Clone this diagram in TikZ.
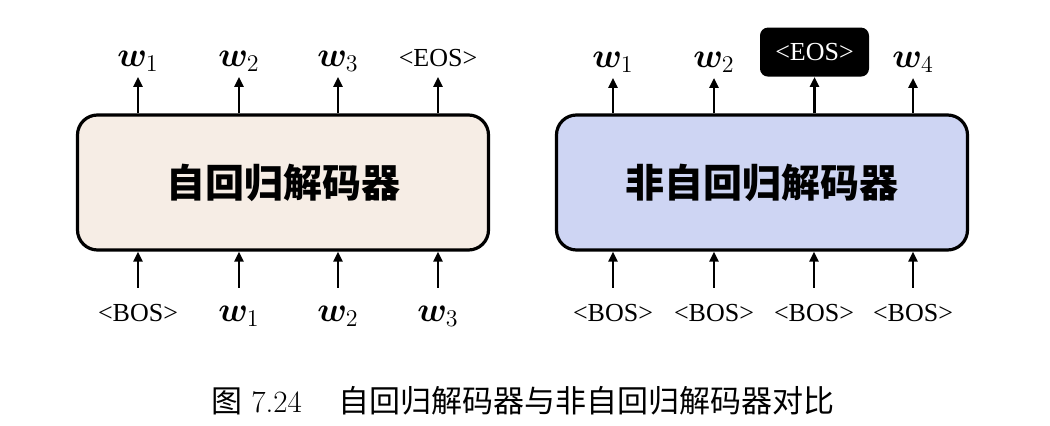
\documentclass[tikz,border=0pt]{standalone}
\usepackage{amsmath}
\usepackage{bm}
\usepackage{fontspec}
\newfontfamily\cjk{Noto Sans CJK SC}
\newfontfamily\tnr{Liberation Serif}
\usetikzlibrary{arrows.meta}
\definecolor{arfill}{RGB}{246,237,229}
\definecolor{narfill}{RGB}{206,213,243}

\newcommand{\tokw}[1]{{\fontsize{16.5}{18}\selectfont$\bm{w}_{#1}$}}

\tikzset{
	decoder/.style={draw, line width=1.6pt, rounded corners=10pt, minimum width=205.5pt, minimum height=67.5pt, font=\cjk\bfseries\fontsize{19.5}{22}\selectfont},
	outtok/.style={anchor=south, inner sep=2pt, text height=10pt, text depth=3pt, font=\tnr\fontsize{13}{15}\selectfont},
	intok/.style={anchor=north, inner xsep=2pt, inner ysep=6.5pt, text height=10pt, text depth=3pt, font=\tnr\fontsize{13}{15}\selectfont},
	eosbox/.style={fill=black, text=white, rounded corners=4pt, minimum width=54.5pt, minimum height=24.5pt, inner sep=0pt, font=\tnr\fontsize{13}{15}\selectfont},
	flow/.style={-{Triangle[length=5pt,width=4.5pt]}, line width=1.2pt},
}

\begin{document}
\begin{tikzpicture}[x=0.5pt, y=-0.5pt]
			\useasboundingbox (0,0) rectangle (1050,426);
			
			% autoregressive decoder
			\node [decoder, fill=arfill] (ar) at (283,182.5) {自回归解码器};
			\node [outtok] (ar-o1) at (138,77) {\tokw{1}};
			\node [outtok] (ar-o2) at (239,77) {\tokw{2}};
			\node [outtok] (ar-o3) at (338,77) {\tokw{3}};
			\node [outtok] (ar-o4) at (438,77) {<EOS>};
			\node [intok] (ar-i1) at (138,288) {<BOS>};
			\node [intok] (ar-i2) at (239,288) {\tokw{1}};
			\node [intok] (ar-i3) at (338,288) {\tokw{2}};
			\node [intok] (ar-i4) at (438,288) {\tokw{3}};
			\draw [flow] (ar.north -| ar-o1) -- (ar-o1.south);
			\draw [flow] (ar.north -| ar-o2) -- (ar-o2.south);
			\draw [flow] (ar.north -| ar-o3) -- (ar-o3.south);
			\draw [flow] (ar.north -| ar-o4) -- (ar-o4.south);
			\draw [flow] (ar-i1.north) -- (ar.south -| ar-i1);
			\draw [flow] (ar-i2.north) -- (ar.south -| ar-i2);
			\draw [flow] (ar-i3.north) -- (ar.south -| ar-i3);
			\draw [flow] (ar-i4.north) -- (ar.south -| ar-i4);
			
			% non-autoregressive decoder
			\node [decoder, fill=narfill] (nar) at (762,182.5) {非自回归解码器};
			\node [outtok] (nar-o1) at (613,78) {\tokw{1}};
			\node [outtok] (nar-o2) at (714,78) {\tokw{2}};
			\node [eosbox, anchor=south] (nar-o3) at (814.5,77) {<EOS>};
			\node [outtok] (nar-o4) at (913,78) {\tokw{4}};
			\node [intok] (nar-i1) at (613,288) {<BOS>};
			\node [intok] (nar-i2) at (714,288) {<BOS>};
			\node [intok] (nar-i3) at (814,288) {<BOS>};
			\node [intok] (nar-i4) at (913,288) {<BOS>};
			\draw [flow] (nar.north -| nar-o1) -- (nar-o1.south);
			\draw [flow] (nar.north -| nar-o2) -- (nar-o2.south);
			\draw [flow] (nar.north -| nar-o3) -- (nar-o3.south);
			\draw [flow] (nar.north -| nar-o4) -- (nar-o4.south);
			\draw [flow] (nar-i1.north) -- (nar.south -| nar-i1);
			\draw [flow] (nar-i2.north) -- (nar.south -| nar-i2);
			\draw [flow] (nar-i3.north) -- (nar.south -| nar-i3);
			\draw [flow] (nar-i4.north) -- (nar.south -| nar-i4);
			
			% caption
			\node [font=\fontsize{15.5}{18}\selectfont] (cap) at (523,401) {{\cjk 图}~7.24\hspace{1.2em}{\cjk 自回归解码器与非自回归解码器对比}};
		\end{tikzpicture}
\end{document}
